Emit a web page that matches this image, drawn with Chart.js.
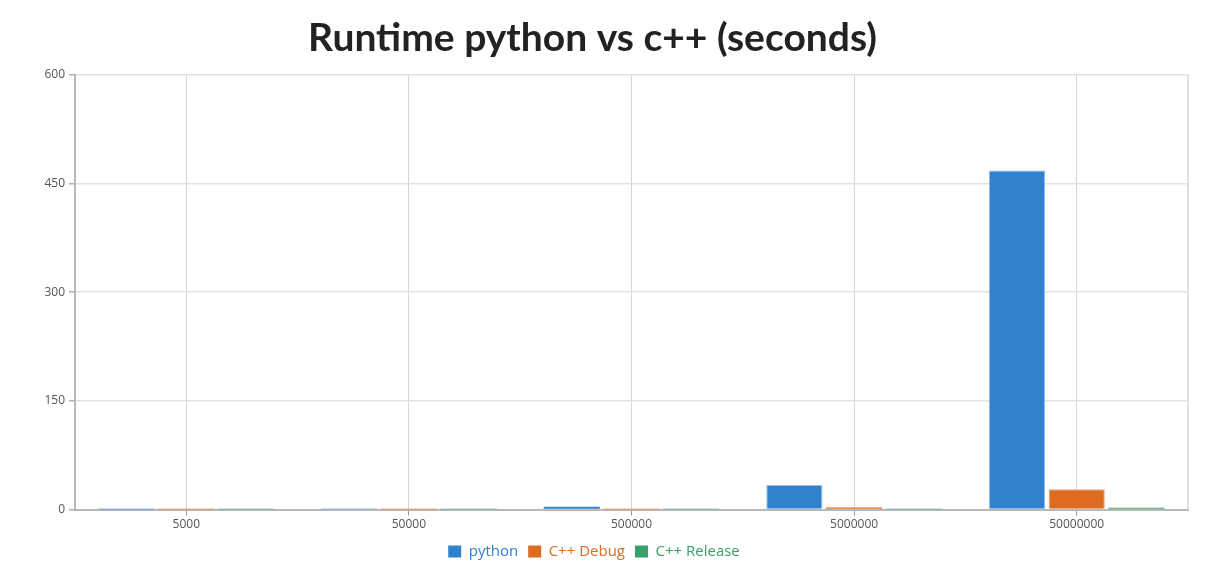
<!DOCTYPE html>
<html><head><meta charset="utf-8">
<script src="https://cdn.jsdelivr.net/npm/chart.js@4/dist/chart.umd.min.js"></script>
<style>html,body{margin:0;padding:0;background:#fff}#wrap{width:1230px;height:569px}</style>
</head><body><div id="wrap"><canvas id="c"></canvas></div>
<script>
const categories = ["5000", "50000", "500000", "5000000", "50000000"];
const pythonTimes = [0.04, 0.4, 4, 34, 468];
const cppDebugTimes = [0.003, 0.03, 0.3, 3, 28];
const cppReleaseTimes = [0.0003, 0.003, 0.03, 0.25, 2.7];
const yTicks = [0, 150, 300, 450, 600];

const colors = ["#3182ce", "#dd6b20", "#38a169"];
const borders = ["#8fbbe8", "#f0a872", "#8fd0a8"];

const rightBorder = {
  id: 'rightBorder',
  afterLayout(chart) {
    if (chart.titleBlock) { chart.titleBlock.left = 0; chart.titleBlock.right = 1185; }
  },
  afterDraw(chart) {
    const a = chart.chartArea, ctx = chart.ctx;
    ctx.save(); ctx.strokeStyle = '#e0e0e0'; ctx.lineWidth = 2;
    ctx.beginPath(); ctx.moveTo(a.right, a.top); ctx.lineTo(a.right, a.bottom); ctx.stroke(); ctx.restore();
  }
};

const mk = (label, data, i) => ({label, data, backgroundColor: colors[i], borderColor: borders[i],
  borderWidth: (c) => (c.raw < 5 ? 0 : 1),
  categoryPercentage: 0.805, barPercentage: 0.94});

new Chart(document.getElementById('c'), {
  type: 'bar',
  data: { labels: categories, datasets: [
    mk('python', pythonTimes, 0), mk('C++ Debug', cppDebugTimes, 1), mk('C++ Release', cppReleaseTimes, 2)
  ]},
  plugins: [rightBorder],
  options: {
    responsive: true, maintainAspectRatio: false, animation: false,
    layout: { padding: { left: 0, right: 42, top: 15, bottom: 0 } },
    plugins: {
      title: { display: true, text: 'Runtime python vs c++ (seconds)', color: '#222',
        font: { family: 'Lato', size: 39, weight: 'bold' }, padding: { top: 0, bottom: 13 } },
      legend: { position: 'bottom', labels: { boxWidth: 13, boxHeight: 12, padding: 10,
        font: { family: 'Open Sans', size: 15 },
        generateLabels(chart) {
          const items = Chart.defaults.plugins.legend.labels.generateLabels(chart);
          items.forEach((it, i) => { it.fontColor = colors[i]; it.strokeStyle = colors[i]; it.lineWidth = 0; });
          return items;
        } } },
      tooltip: { enabled: false }
    },
    scales: {
      x: {
        grid: { offset: false, color: '#d6d6d6', lineWidth: 1, tickLength: 6, tickColor: '#999' },
        border: { color: '#b8b8b8', width: 2 },
        ticks: { color: '#555', font: { family: 'Open Sans', size: 12 }, padding: 2, maxRotation: 0 }
      },
      y: {
        min: 0, max: 600,
        afterBuildTicks(s) { s.ticks = yTicks.map(v => ({value: v})); },
        afterFit(s) { s.width = 75; },
        grid: { color: '#e2e2e2', lineWidth: 1.5, tickLength: 6, tickColor: '#b0b0b0' },
        border: { color: '#b8b8b8', width: 2 },
        ticks: { color: '#555', font: { family: 'Open Sans', size: 12 }, padding: 4 }
      }
    }
  }
});
</script></body></html>
